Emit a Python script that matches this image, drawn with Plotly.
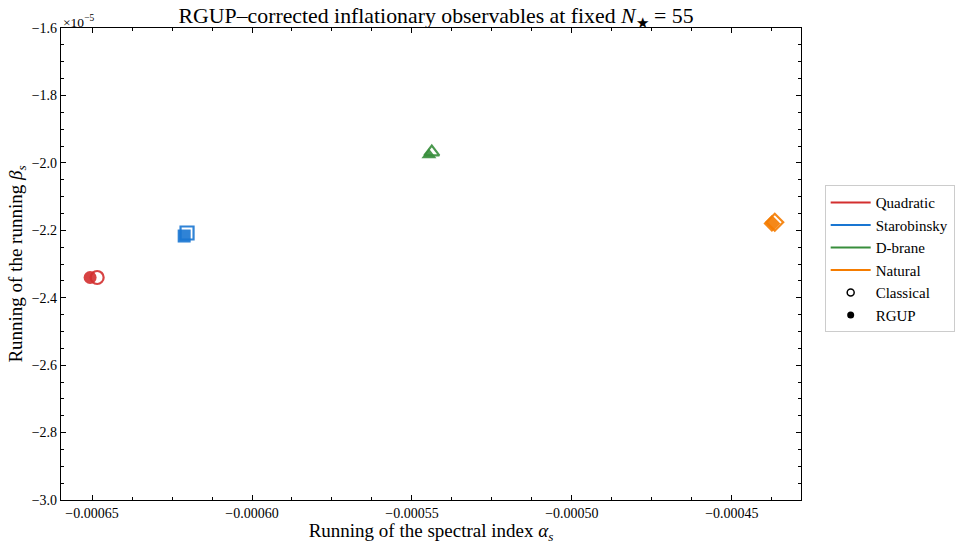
import plotly.graph_objects as go

models = ["Quadratic", "Starobinsky", "D-brane", "Natural"]
colors = ["#d32f2f", "#1976d2", "#388e3c", "#f57c00"]
symbols = ["circle", "square", "triangle-up", "diamond"]

alpha_classical = [-0.0006484, -0.0006203, -0.0005438, -0.0004366]
beta_classical = [-2.340, -2.208, -1.968, -2.176]   # in units of 1e-5
alpha_rgup = [-0.0006506, -0.0006212, -0.0005447, -0.0004375]
beta_rgup = [-2.340, -2.217, -1.977, -2.180]        # in units of 1e-5

FONT = "Liberation Serif, Times New Roman, serif"

fig = go.Figure()

for i, m in enumerate(models):
    fig.add_trace(go.Scatter(x=[alpha_rgup[i]], y=[beta_rgup[i]], mode="markers",
                             marker=dict(symbol=symbols[i], size=13, color=colors[i]),
                             opacity=0.9, showlegend=False))
    fig.add_trace(go.Scatter(x=[alpha_classical[i]], y=[beta_classical[i]], mode="markers",
                             marker=dict(symbol=symbols[i] + "-open", size=13, color=colors[i],
                                         line=dict(width=2.2, color=colors[i])),
                             opacity=0.9, showlegend=False))

for i, m in enumerate(models):
    fig.add_trace(go.Scatter(x=[None], y=[None], mode="lines", name=m,
                             line=dict(color=colors[i], width=2)))
fig.add_trace(go.Scatter(x=[None], y=[None], mode="markers", name="Classical",
                         marker=dict(symbol="circle-open", size=7, color="black",
                                     line=dict(width=1.5, color="black"))))
fig.add_trace(go.Scatter(x=[None], y=[None], mode="markers", name="RGUP",
                         marker=dict(symbol="circle", size=7, color="black")))

axis_common = dict(showline=True, linecolor="black", linewidth=1.2, mirror="ticks",
                   ticks="inside", ticklen=5, tickwidth=1, tickcolor="black",
                   showgrid=False, zeroline=False, automargin=False,
                   tickfont=dict(family=FONT, size=14, color="black"))

fig.update_xaxes(range=[-0.0006597, -0.0004284], dtick=0.00005, tick0=-0.00065,
                 tickformat=".5f",
                 minor=dict(ticks="inside", ticklen=3, dtick=0.0000125, tick0=-0.00065,
                            tickcolor="black", showgrid=False),
                 title=dict(text="Running of the spectral index <i>α<sub>s</sub></i>",
                            font=dict(family=FONT, size=19, color="black"), standoff=0),
                 **axis_common)
fig.update_yaxes(range=[-3.0, -1.6], dtick=0.2, tick0=-3.0, tickformat=".1f",
                 minor=dict(ticks="inside", ticklen=3, dtick=0.05, tick0=-3.0,
                            tickcolor="black", showgrid=False),
                 title=dict(text="Running of the running <i>β<sub>s</sub></i>",
                            font=dict(family=FONT, size=19, color="black"), standoff=4),
                 **axis_common)

fig.add_annotation(text="×10<sup>−5</sup>", xref="paper", yref="paper", x=0, y=1,
                   xanchor="left", yanchor="bottom", showarrow=False, yshift=-4,
                   font=dict(family=FONT, size=13.5, color="black"))

fig.update_layout(
    width=969, height=544,
    margin=dict(l=61, r=168, t=28, b=44),
    paper_bgcolor="white", plot_bgcolor="white",
    title=dict(text="RGUP–corrected inflationary observables at fixed <i>N</i><sub>★</sub> = 55",
               xref="container", x=0.45, xanchor="center", y=0.985, yanchor="top",
               font=dict(family=FONT, size=21.8, color="black")),
    legend=dict(x=1.032, y=0.667, xanchor="left", yanchor="top",
                bordercolor="#cccccc", borderwidth=1, bgcolor="white",
                font=dict(family=FONT, size=15, color="black"),
                itemwidth=40, tracegroupgap=2),
    font=dict(family=FONT),
)

fig.write_html("out.html", config={"displayModeBar": False},
               post_script="document.body.style.margin='0';")
